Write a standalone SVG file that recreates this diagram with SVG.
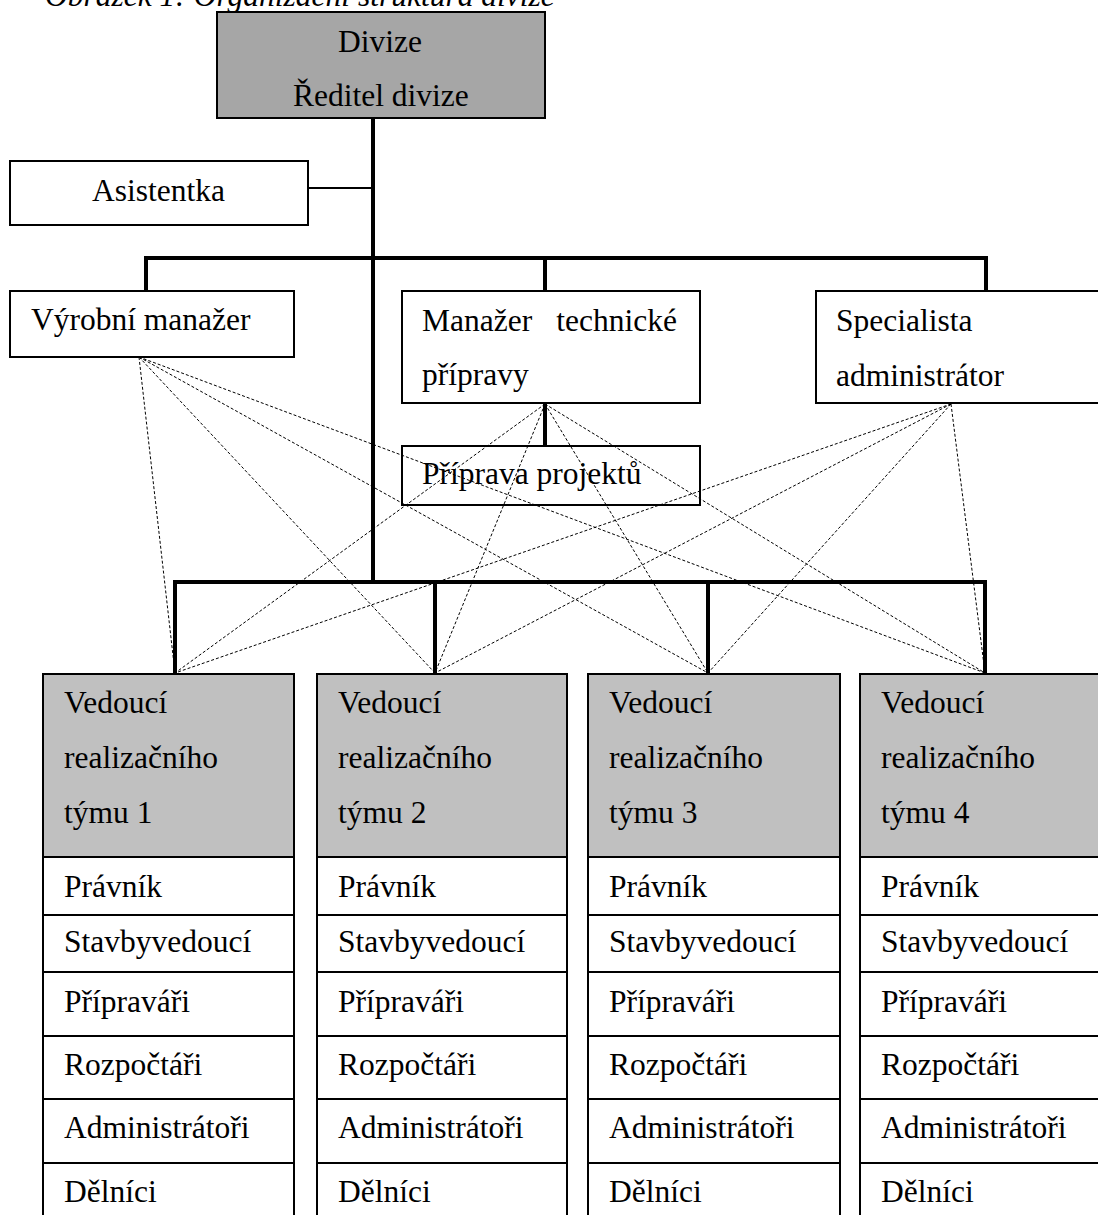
<svg xmlns="http://www.w3.org/2000/svg" width="1098" height="1215" viewBox="0 0 1098 1215">
<style>
  text { font-family: "Liberation Serif", "Times New Roman", serif; font-size: 31.5px; fill: #000; }
  .title { font-style: italic; }
  .box { fill: #fff; stroke: #000; stroke-width: 2; }
  .open { fill: none; stroke: #000; stroke-width: 2; }
  .dark { fill: #a6a6a6; stroke: #000; stroke-width: 2; }
  .head { fill: #c0c0c0; stroke: #000; stroke-width: 2; }
  .bold { fill: none; stroke: #000; stroke-width: 4; }
  .thin { fill: none; stroke: #000; stroke-width: 2; }
  .dash { fill: none; stroke: #000; stroke-width: 1; stroke-dasharray: 3 2; }
</style>
<rect width="1098" height="1215" fill="#fff"/>
<text class="title" x="45" y="6">Obrázek 1: Organizační struktura divize</text>

<g id="divize">
  <rect class="dark" x="217" y="12" width="328" height="106"/>
  <text x="338" y="52">Divize</text>
  <text x="293" y="106">Ředitel divize</text>
</g>
<g id="asistentka">
  <rect class="box" x="10" y="161" width="298" height="64"/>
  <text x="92" y="201">Asistentka</text>
</g>
<g id="vyrobni">
  <rect class="box" x="10" y="291" width="284" height="66"/>
  <text x="31" y="330">Výrobní manažer</text>
</g>
<g id="manazer">
  <rect class="box" x="402" y="291" width="298" height="112"/>
  <text y="331"><tspan x="422">Manažer</tspan><tspan x="677" text-anchor="end">technické</tspan></text>
  <text x="422" y="385">přípravy</text>
</g>
<g id="specialista">
  <rect class="box" x="816" y="291" width="290" height="112"/>
  <text x="836" y="331">Specialista</text>
  <text x="836" y="386">administrátor</text>
</g>
<g id="priprava">
  <rect class="open" x="402" y="446" width="298" height="59"/>
  <text x="422" y="484">Příprava projektů</text>
</g>

<g id="tym1">
  <rect class="head" x="43" y="674" width="251" height="183"/>
  <rect class="box" x="43" y="857" width="251" height="58"/>
  <rect class="box" x="43" y="915" width="251" height="57"/>
  <rect class="box" x="43" y="972" width="251" height="64"/>
  <rect class="box" x="43" y="1036" width="251" height="63"/>
  <rect class="box" x="43" y="1099" width="251" height="64"/>
  <rect class="box" x="43" y="1163" width="251" height="64"/>
  <text x="64" y="713">Vedoucí</text>
  <text x="64" y="768">realizačního</text>
  <text x="64" y="823">týmu 1</text>
  <text x="64" y="897">Právník</text>
  <text x="64" y="952">Stavbyvedoucí</text>
  <text x="64" y="1012">Přípraváři</text>
  <text x="64" y="1075">Rozpočtáři</text>
  <text x="64" y="1138">Administrátoři</text>
  <text x="64" y="1202">Dělníci</text>
</g>
<g id="tym2">
  <rect class="head" x="317" y="674" width="250" height="183"/>
  <rect class="box" x="317" y="857" width="250" height="58"/>
  <rect class="box" x="317" y="915" width="250" height="57"/>
  <rect class="box" x="317" y="972" width="250" height="64"/>
  <rect class="box" x="317" y="1036" width="250" height="63"/>
  <rect class="box" x="317" y="1099" width="250" height="64"/>
  <rect class="box" x="317" y="1163" width="250" height="64"/>
  <text x="338" y="713">Vedoucí</text>
  <text x="338" y="768">realizačního</text>
  <text x="338" y="823">týmu 2</text>
  <text x="338" y="897">Právník</text>
  <text x="338" y="952">Stavbyvedoucí</text>
  <text x="338" y="1012">Přípraváři</text>
  <text x="338" y="1075">Rozpočtáři</text>
  <text x="338" y="1138">Administrátoři</text>
  <text x="338" y="1202">Dělníci</text>
</g>
<g id="tym3">
  <rect class="head" x="588" y="674" width="252" height="183"/>
  <rect class="box" x="588" y="857" width="252" height="58"/>
  <rect class="box" x="588" y="915" width="252" height="57"/>
  <rect class="box" x="588" y="972" width="252" height="64"/>
  <rect class="box" x="588" y="1036" width="252" height="63"/>
  <rect class="box" x="588" y="1099" width="252" height="64"/>
  <rect class="box" x="588" y="1163" width="252" height="64"/>
  <text x="609" y="713">Vedoucí</text>
  <text x="609" y="768">realizačního</text>
  <text x="609" y="823">týmu 3</text>
  <text x="609" y="897">Právník</text>
  <text x="609" y="952">Stavbyvedoucí</text>
  <text x="609" y="1012">Přípraváři</text>
  <text x="609" y="1075">Rozpočtáři</text>
  <text x="609" y="1138">Administrátoři</text>
  <text x="609" y="1202">Dělníci</text>
</g>
<g id="tym4">
  <rect class="head" x="860" y="674" width="250" height="183"/>
  <rect class="box" x="860" y="857" width="250" height="58"/>
  <rect class="box" x="860" y="915" width="250" height="57"/>
  <rect class="box" x="860" y="972" width="250" height="64"/>
  <rect class="box" x="860" y="1036" width="250" height="63"/>
  <rect class="box" x="860" y="1099" width="250" height="64"/>
  <rect class="box" x="860" y="1163" width="250" height="64"/>
  <text x="881" y="713">Vedoucí</text>
  <text x="881" y="768">realizačního</text>
  <text x="881" y="823">týmu 4</text>
  <text x="881" y="897">Právník</text>
  <text x="881" y="952">Stavbyvedoucí</text>
  <text x="881" y="1012">Přípraváři</text>
  <text x="881" y="1075">Rozpočtáři</text>
  <text x="881" y="1138">Administrátoři</text>
  <text x="881" y="1202">Dělníci</text>
</g>

<g id="connectors">
  <path class="bold" d="M373 118 V582"/>
  <path class="thin" d="M308 188 H373"/>
  <path class="bold" d="M146 291 V258 H986 V291 M545 258 V291"/>
  <path class="bold" d="M545 403 V446"/>
  <path class="bold" d="M175 673 V582 H985 V673 M435 582 V673 M708 582 V673"/>
  <g id="dashed">
    <path class="dash" d="M139 357 L175 673 M139 357 L435 673 M139 357 L708 673 M139 357 L985 673"/>
    <path class="dash" d="M545 404 L175 673 M545 404 L435 673 M545 404 L708 673 M545 404 L985 673"/>
    <path class="dash" d="M951 404 L175 673 M951 404 L435 673 M951 404 L708 673 M951 404 L985 673"/>
  </g>
</g>
</svg>
